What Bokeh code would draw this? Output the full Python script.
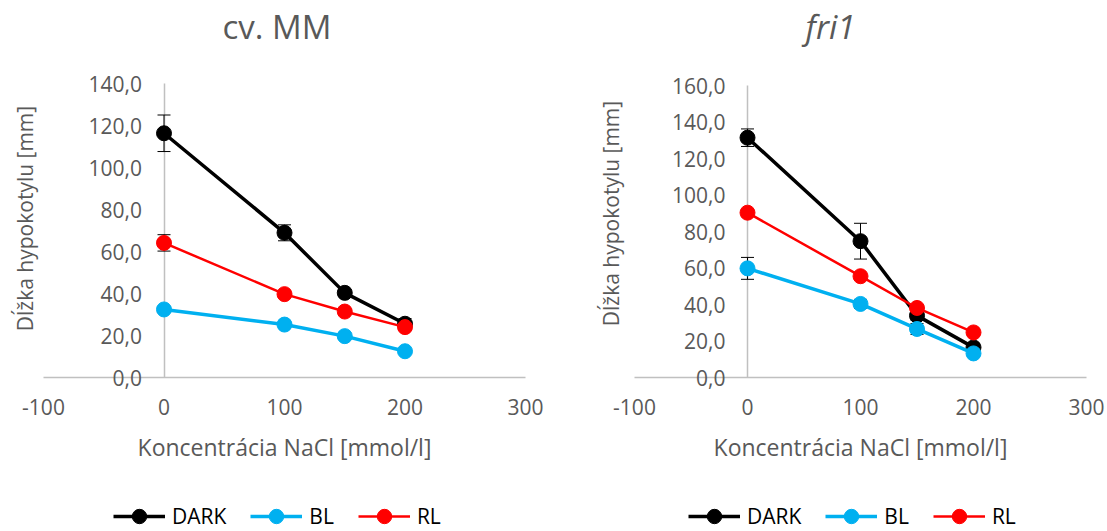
from bokeh.plotting import figure
from bokeh.models import (Range1d, LinearAxis, FixedTicker, ColumnDataSource,
                          Whisker, TeeHead, Legend, LegendItem)
from bokeh.layouts import row
from bokeh.embed import file_html
from bokeh.resources import INLINE

# ---------------- data ----------------
conc = [0, 100, 150, 200]
x_ticks = [-100, 0, 100, 200, 300]
x_tick_labels = ["-100", "0", "100", "200", "300"]
series_names = ["DARK", "BL", "RL"]

# cv. MM
mm_dark = [116.3, 68.9, 40.3, 25.6]
mm_dark_err = [8.7, 3.8, 1.5, 2.5]
mm_bl = [32.4, 25.2, 19.7, 12.5]
mm_bl_err = [1.5, 1.5, 1.5, 1.0]
mm_rl = [64.1, 39.7, 31.4, 24.0]
mm_rl_err = [3.9, 1.5, 1.5, 1.5]
mm_y_ticks = [0, 20, 40, 60, 80, 100, 120, 140]
mm_y_labels = ["0,0", "20,0", "40,0", "60,0", "80,0", "100,0", "120,0", "140,0"]

# fri1
fri_dark = [131.4, 74.7, 33.9, 16.5]
fri_dark_err = [4.8, 9.8, 2.5, 2.0]
fri_bl = [59.8, 40.3, 26.6, 13.2]
fri_bl_err = [6.0, 2.5, 3.0, 1.5]
fri_rl = [90.3, 55.5, 38.1, 24.7]
fri_rl_err = [1.5, 1.5, 1.5, 1.5]
fri_y_ticks = [0, 20, 40, 60, 80, 100, 120, 140, 160]
fri_y_labels = ["0,0", "20,0", "40,0", "60,0", "80,0", "100,0", "120,0", "140,0", "160,0"]

x_title = "Koncentrácia NaCl [mmol/l]"
y_title = "Dĺžka hypokotylu [mm]"

colors = {"DARK": "#000000", "BL": "#00B0F0", "RL": "#FF0000"}
widths = {"DARK": 3.5, "BL": 3.5, "RL": 2.5}

FONT = "Open Sans"
GREY = "#595959"
AXIS_GREY = "#c0c0c0"

H = 531
FRAME_TOP = 48  # pixel where the drawing frame starts (below title)


def make_panel(title, italic, data, y_max, y_ticks, y_labels, width,
               px_left, px_right, px_ytop, px_ybottom, title_offset, legend_x,
               ylabel_shift_px, ylabel_standoff):
    # map pixel layout to the range so the axes land where the reference has them
    sx = (px_right - px_left) / 400.0
    x0 = -100 - px_left / sx
    x1 = 300 + (width - px_right) / sx
    sy = (px_ybottom - px_ytop) / float(y_max)
    y0 = -(H - px_ybottom) / sy
    y1 = y_max + (px_ytop - FRAME_TOP) / sy

    p = figure(width=width, height=H, x_range=Range1d(x0, x1),
               y_range=Range1d(y0, y1), output_backend="svg",
               toolbar_location=None, x_axis_location=None,
               y_axis_location=None,
               min_border_left=0, min_border_right=0,
               min_border_top=FRAME_TOP, min_border_bottom=0)
    p.outline_line_color = None
    p.grid.visible = False
    p.background_fill_color = "white"
    p.border_fill_color = "white"

    p.title.text = title
    p.title.align = "center"
    p.title.text_font = FONT
    p.title.text_font_size = "33px"
    p.title.text_font_style = "italic" if italic else "normal"
    p.title.text_color = GREY
    p.title.offset = title_offset
    p.title.standoff = 0

    xa = LinearAxis(fixed_location=0, ticker=FixedTicker(ticks=x_ticks),
                    major_label_overrides=dict(zip(x_ticks, x_tick_labels)),
                    bounds=(-100, 300))
    xa.level = "underlay"
    xa.major_tick_out = 0
    xa.major_tick_in = 0
    xa.minor_tick_out = 0
    xa.minor_tick_in = 0
    xa.axis_line_color = AXIS_GREY
    xa.axis_line_width = 1.5
    xa.major_label_text_font = FONT
    xa.major_label_text_font_size = "21px"
    xa.major_label_text_color = GREY
    xa.major_label_standoff = 21
    xa.axis_label = x_title
    xa.axis_label_text_font = FONT
    xa.axis_label_text_font_size = "23px"
    xa.axis_label_text_font_style = "normal"
    xa.axis_label_text_color = GREY
    xa.axis_label_standoff = 13
    p.add_layout(xa, "below")

    ya = LinearAxis(fixed_location=0, ticker=FixedTicker(ticks=y_ticks),
                    major_label_overrides=dict(zip(y_ticks, y_labels)),
                    bounds=(0, y_max))
    ya.level = "underlay"
    ya.major_tick_out = 0
    ya.major_tick_in = 0
    ya.minor_tick_out = 0
    ya.minor_tick_in = 0
    ya.axis_line_color = AXIS_GREY
    ya.axis_line_width = 1.5
    ya.major_label_text_font = FONT
    ya.major_label_text_font_size = "21px"
    ya.major_label_text_color = GREY
    ya.major_label_standoff = 22
    p.add_layout(ya, "left")

    # separate, line-less axis that only carries the vertical title,
    # centred slightly above the middle of the value axis as in the reference
    d = ylabel_shift_px / sy
    yl = LinearAxis(fixed_location=0, ticker=FixedTicker(ticks=[]),
                    bounds=(0 + d, y_max + d))
    yl.axis_line_alpha = 0
    yl.major_tick_out = 0
    yl.major_tick_in = 0
    yl.minor_tick_out = 0
    yl.minor_tick_in = 0
    yl.major_label_standoff = 0
    yl.axis_label = y_title
    yl.axis_label_text_font = FONT
    yl.axis_label_text_font_size = "21px"
    yl.axis_label_text_font_style = "normal"
    yl.axis_label_text_color = GREY
    yl.axis_label_standoff = ylabel_standoff
    p.add_layout(yl, "left")

    items = []
    for name in series_names:
        ys, errs = data[name]
        src = ColumnDataSource(dict(
            x=conc, y=ys,
            upper=[v + e for v, e in zip(ys, errs)],
            lower=[v - e for v, e in zip(ys, errs)]))
        wk = Whisker(source=src, base="x", upper="upper", lower="lower",
                     line_color="black", line_width=1,
                     upper_head=TeeHead(size=13, line_color="black", line_width=1),
                     lower_head=TeeHead(size=13, line_color="black", line_width=1),
                     level="underlay")
        p.add_layout(wk)
        ln = p.line("x", "y", source=src, line_color=colors[name],
                    line_width=widths[name])
        sc = p.scatter("x", "y", source=src, size=15, fill_color=colors[name],
                       line_color=colors[name])
        items.append(LegendItem(label=name, renderers=[ln, sc]))

    leg = Legend(items=items, orientation="horizontal",
                 location=(legend_x, -3))
    leg.border_line_color = None
    leg.background_fill_alpha = 0
    leg.padding = 0
    leg.margin = 0
    leg.spacing = 24
    leg.glyph_width = 52
    leg.glyph_height = 36
    leg.label_standoff = 7
    leg.label_text_font = FONT
    leg.label_text_font_size = "21px"
    leg.label_text_color = "#000000"
    p.add_layout(leg)
    return p


p1 = make_panel("cv. MM", False,
                {"DARK": (mm_dark, mm_dark_err), "BL": (mm_bl, mm_bl_err),
                 "RL": (mm_rl, mm_rl_err)},
                140, mm_y_ticks, mm_y_labels, 553, 43, 525, 83, 377, -11, 113,
                12, 126)
p2 = make_panel("fri1", True,
                {"DARK": (fri_dark, fri_dark_err), "BL": (fri_bl, fri_bl_err),
                 "RL": (fri_rl, fri_rl_err)},
                160, fri_y_ticks, fri_y_labels, 554, 81, 533, 85, 377, 0, 135,
                18, 123)

layout = row(p1, p2)
open("out.html", "w").write(file_html(layout, INLINE))
